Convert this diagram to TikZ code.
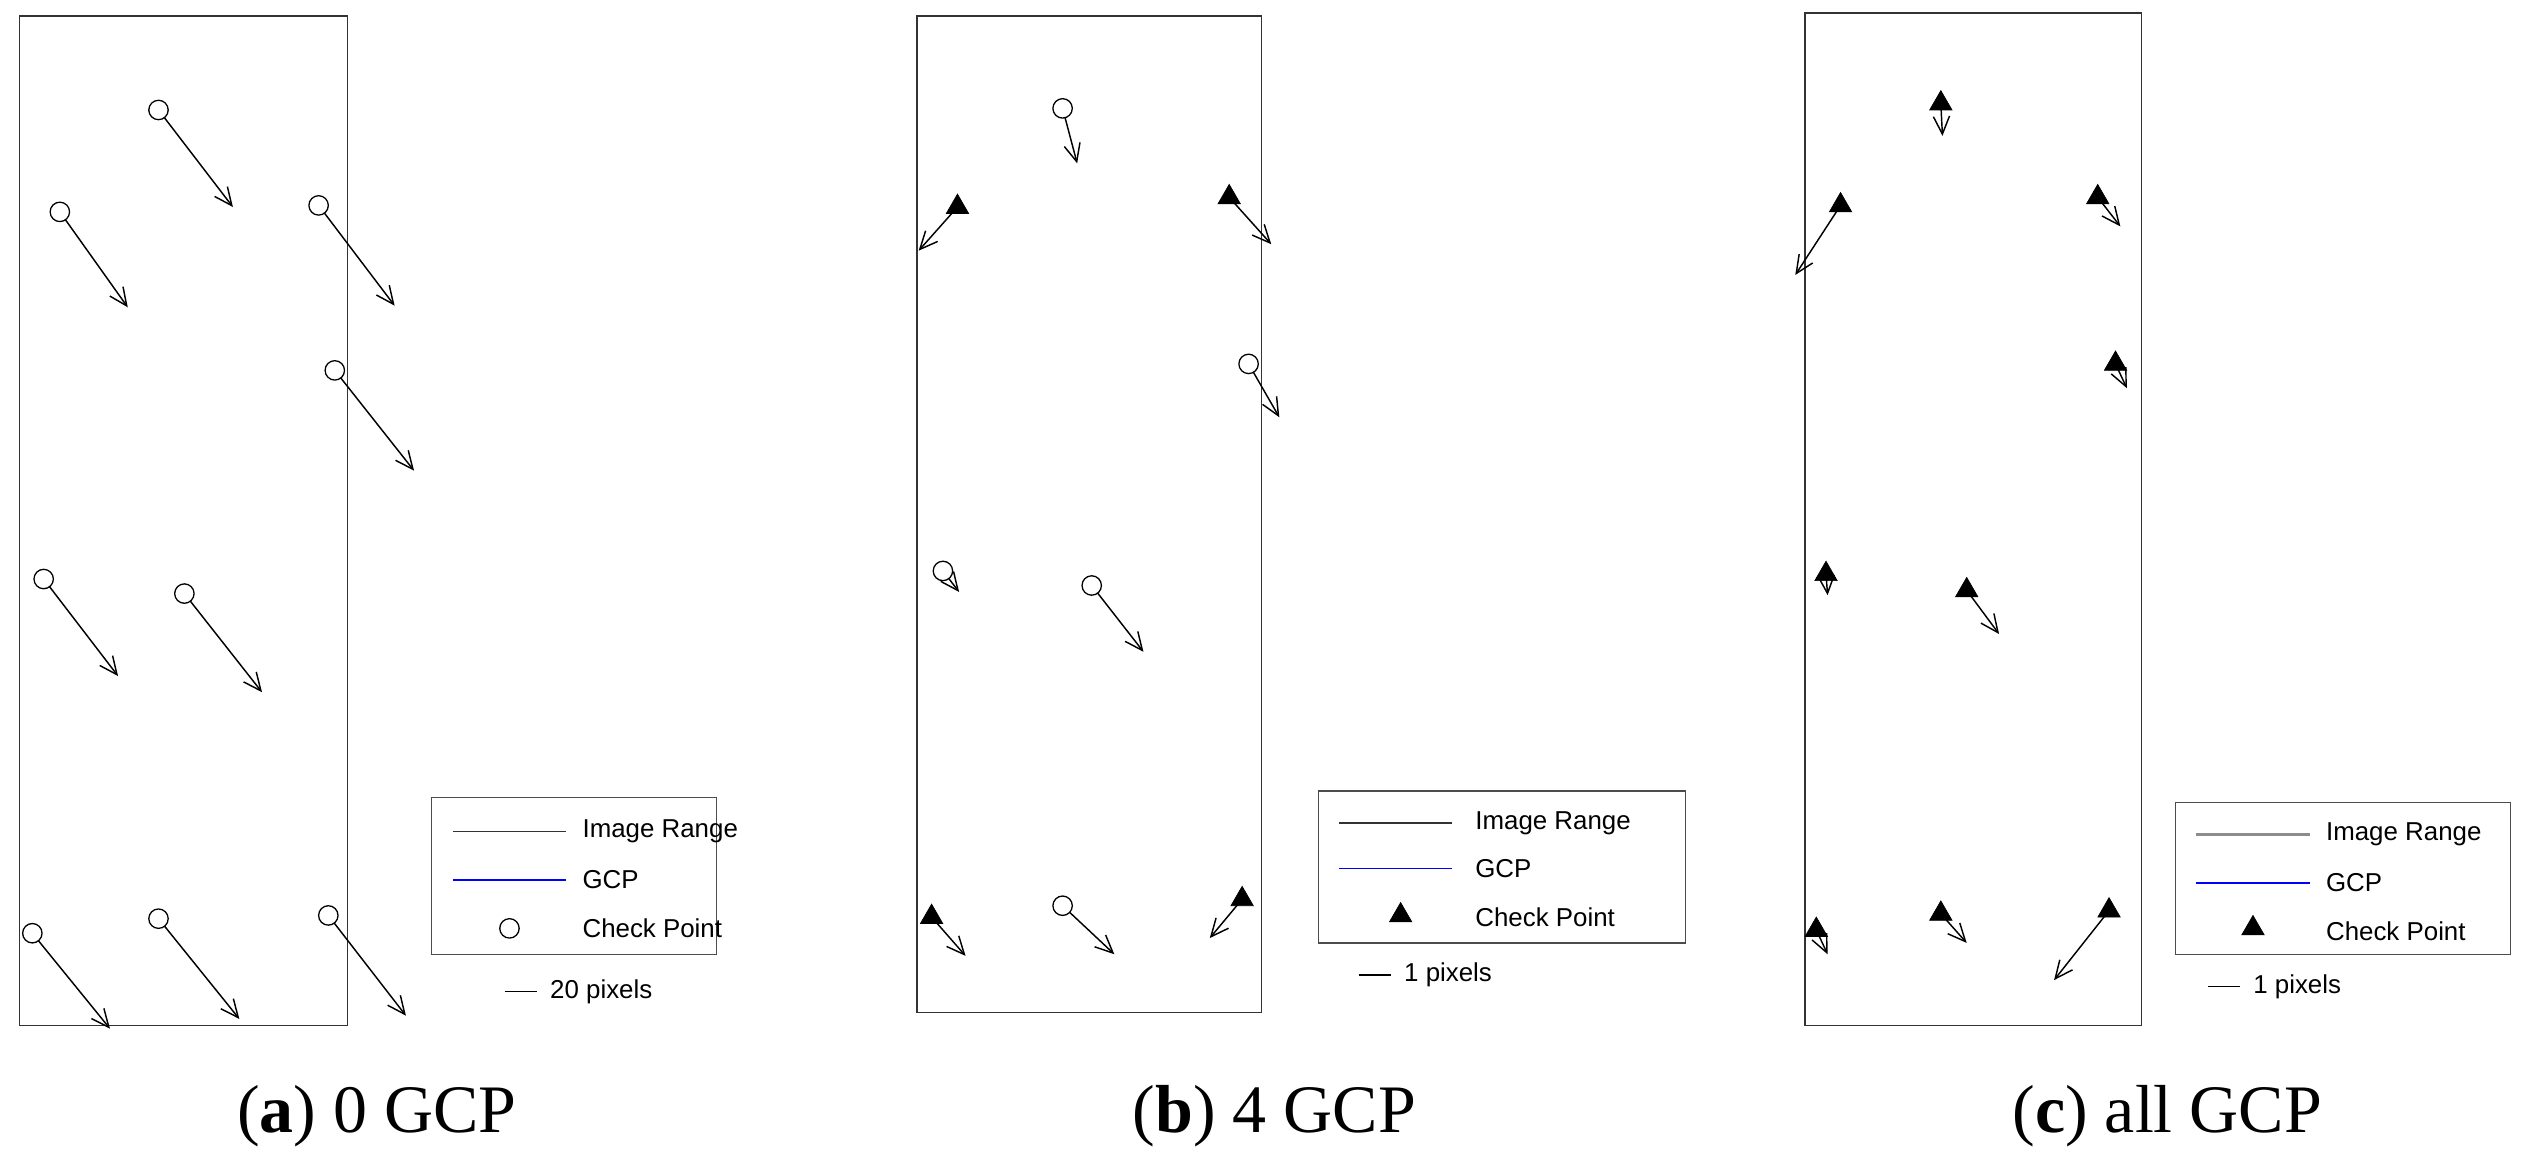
\documentclass[tikz,border=0pt]{standalone}
\usepackage{fontspec}
\newfontfamily\lsans{Liberation Sans}
\newfontfamily\lserif{Liberation Serif}
\usetikzlibrary{arrows.meta,shapes.geometric}
\begin{document}
\begin{tikzpicture}[x=1pt,y=-1pt,
 vec/.style={black,line width=0.9pt,-{Straight Barb[length=11pt,width=10pt,line width=0.9pt]}},
 cp/.style={draw,circle,inner sep=0pt,minimum size=12pt,line width=0.8pt},
 gcp/.style={fill=black,draw=black,regular polygon,regular polygon sides=3,inner sep=0pt,minimum size=16pt},
 frame/.style={draw=black!80,line width=0.9pt},
 lbox/.style={draw=black!70,line width=0.8pt},
 ltxt/.style={anchor=west,font=\lsans\fontsize{16}{18}\selectfont,inner sep=0pt},
 captxt/.style={font=\lserif\fontsize{42}{46}\selectfont}]
\useasboundingbox (0,0) rectangle (1568,718);
% panel a
\draw[frame] (12,10) rectangle (215,634);
\foreach \a/\b/\c/\d in {98/68/144/128,37/131/79/190,197/127/244/189,207/229/256/291,27/358/73/418,114/367/162/428,20/577/68/636,98/568/148/630,203/566/251/628}{
 \draw[vec] (\a,\b) -- (\c,\d); \node[cp,fill=white] at (\a,\b) {};}
\draw[lbox] (267,493) rectangle (443,590);
\draw[black!80,line width=1pt] (280,514) -- (350,514); \node[ltxt] at (360,514) {Image Range};
\draw[blue,line width=1pt] (280,544) -- (350,544); \node[ltxt] at (360,544) {GCP};
\node[cp] at (315,574) {}; \node[ltxt] at (360,574) {Check Point};
\draw[line width=1pt] (312,613) -- (332,613); \node[ltxt] at (340,613) {20 pixels};
\node[captxt] at (233,690) {(\textbf{a}) 0 GCP};
% panel b
\draw[frame] (567,10) rectangle (780,626);
\foreach \a/\b/\c/\d in {657/67/666/101,583/353/593/366,675/362/707/403,772/225/791/258,657/560/689/590}{
 \draw[vec] (\a,\b) -- (\c,\d); \node[cp,fill=white] at (\a,\b) {};}
\foreach \a/\b/\c/\d in {592/128/568/155,760/122/786/151,576/567/597/591,768/556/748/580}{
 \draw[vec] (\a,\b) -- (\c,\d); \node[gcp] at (\a,\b) {};}
\draw[lbox] (815,489) rectangle (1042,583);
\draw[black!80,line width=1pt] (828,509) -- (898,509); \node[ltxt] at (912,509) {Image Range};
\draw[blue,line width=1pt] (828,537) -- (898,537); \node[ltxt] at (912,537) {GCP};
\node[gcp] at (866,566) {}; \node[ltxt] at (912,567) {Check Point};
\draw[line width=1pt] (840,603) -- (860,603); \node[ltxt] at (868,603) {1 pixels};
\node[captxt] at (788,690) {(\textbf{b}) 4 GCP};
% panel c
\draw[frame] (1116,8) rectangle (1324,634);
\foreach \a/\b/\c/\d in {1200/64/1201/84,1138/127/1110/170,1297/122/1311/140,1308/225/1315/240,1129/355/1130/368,1216/365/1236/392,1123/575/1130/590,1200/565/1216/583,1304/563/1270/606}{
 \draw[vec] (\a,\b) -- (\c,\d); \node[gcp] at (\a,\b) {};}
\draw[lbox] (1345,496) rectangle (1552,590);
\draw[black!45,line width=1.6pt] (1358,516) -- (1428,516); \node[ltxt] at (1438,516) {Image Range};
\draw[blue,line width=1pt] (1358,546) -- (1428,546); \node[ltxt] at (1438,546) {GCP};
\node[gcp] at (1393,574) {}; \node[ltxt] at (1438,576) {Check Point};
\draw[line width=1pt] (1365,610) -- (1385,610); \node[ltxt] at (1393,610) {1 pixels};
\node[captxt] at (1340,690) {(\textbf{c}) all GCP};
\end{tikzpicture}
\end{document}
